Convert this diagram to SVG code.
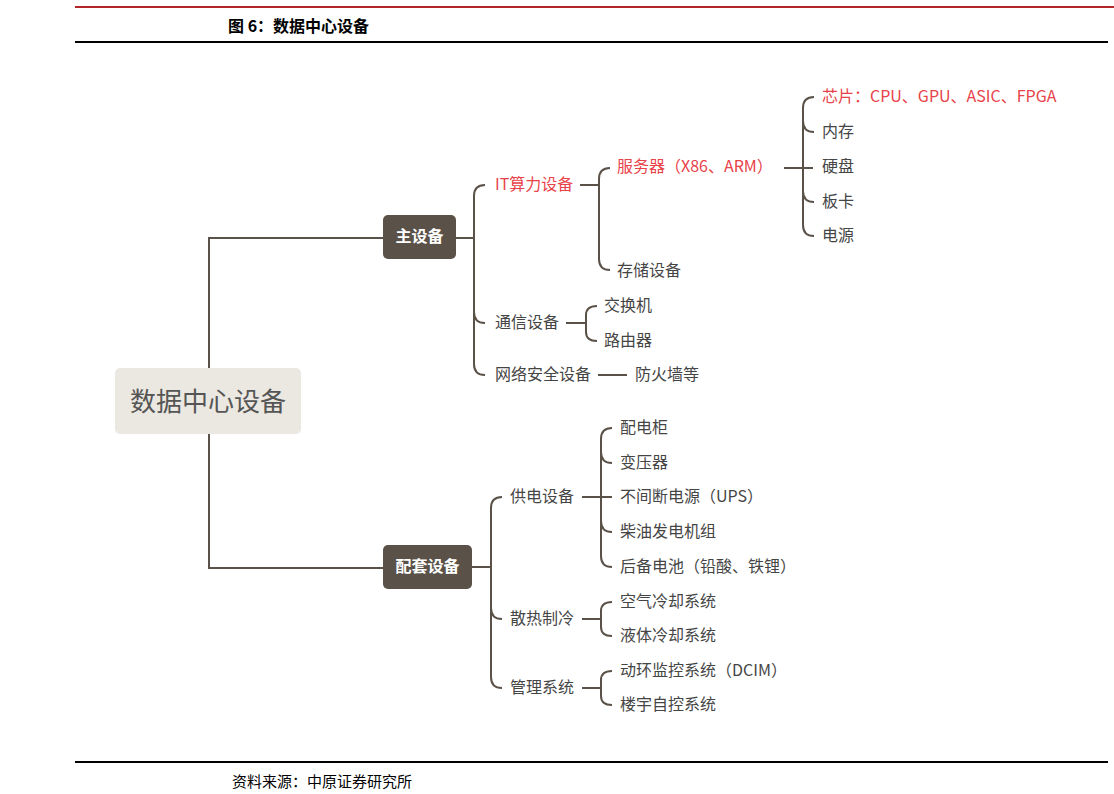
<svg xmlns="http://www.w3.org/2000/svg" width="1114" height="794" viewBox="0 0 1114 794">
<style>
text{font-family:"Noto Sans CJK SC","Noto Sans",sans-serif;}
.t{font-size:16px;fill:#454545;dominant-baseline:central}
.r{fill:#e8424a}
.c{fill:none;stroke:#5a5148;stroke-width:2}
.bx{fill:#5a5148}
.bt{font-size:16px;fill:#fff;font-weight:bold;text-anchor:middle;dominant-baseline:central}
</style>
<rect width="1114" height="794" fill="#fff"/>
<line x1="75" y1="7" x2="1114" y2="7" stroke="#b3232a" stroke-width="2"/>
<text x="228" y="32" font-size="16" font-weight="bold" fill="#000" style="font-family:'Noto Sans CJK SC',serif">图 6：数据中心设备</text>
<line x1="75" y1="42" x2="1108" y2="42" stroke="#000" stroke-width="2"/>
<line x1="75" y1="762" x2="1108" y2="762" stroke="#000" stroke-width="2"/>
<text x="232" y="787" font-size="15" fill="#000">资料来源：中原证券研究所</text>

<g id="connectors">
<path class="c" d="M209,368 V238 H383 M209,434 V568 H383"/>
<path class="c" d="M456,238 H474 M485,185 Q474,185 474,196 V364 Q474,375 485,375 M474,312 Q474,323 485,323"/>
<path class="c" d="M580,185 H599 M610,168 Q599,168 599,179 V259 Q599,270 610,270"/>
<path class="c" d="M784,168 H813 M814,97 Q803,97 803,108 V225 Q803,236 814,236 M803,121 Q803,132 814,132 M803,191 Q803,202 814,202"/>
<path class="c" d="M566,323 H586 M597,306 Q586,306 586,315 V332 Q586,341 597,341"/>
<path class="c" d="M598,375 H627"/>
<path class="c" d="M472,567 H491 M502,497 Q491,497 491,508 V677 Q491,688 502,688 M491,608 Q491,619 502,619"/>
<path class="c" d="M582,497 H612 M612,428 Q601,428 601,439 V556 Q601,567 612,567 M601,452 Q601,463 612,463 M601,521 Q601,532 612,532"/>
<path class="c" d="M582,619 H601 M612,602 Q601,602 601,611 V627 Q601,636 612,636"/>
<path class="c" d="M582,688 H601 M612,671 Q601,671 601,680 V696 Q601,705 612,705"/>
</g>

<g id="root"><rect x="115" y="368" width="186" height="66" rx="5" fill="#ebe8e2"/><text x="208" y="399" font-size="26" fill="#555" text-anchor="middle" dominant-baseline="central">数据中心设备</text></g>
<g id="main"><rect class="bx" x="383" y="215" width="73" height="44" rx="5"/><text class="bt" x="419.5" y="235">主设备</text></g>
<g id="support"><rect class="bx" x="383" y="545" width="89" height="44" rx="5"/><text class="bt" x="427.5" y="565">配套设备</text></g>

<g id="it"><text class="t r" x="495" y="183">IT算力设备</text></g>
<g id="server"><text class="t r" x="617" y="165">服务器（X86、ARM）</text></g>
<g id="storage"><text class="t" x="617" y="269">存储设备</text></g>
<g id="chip"><text class="t r" x="822" y="95">芯片：CPU、GPU、ASIC、FPGA</text></g>
<g id="mem"><text class="t" x="822" y="130">内存</text></g>
<g id="disk"><text class="t" x="822" y="165">硬盘</text></g>
<g id="card"><text class="t" x="822" y="200">板卡</text></g>
<g id="psu"><text class="t" x="822" y="234">电源</text></g>
<g id="comm"><text class="t" x="495" y="321">通信设备</text></g>
<g id="switch"><text class="t" x="604" y="304">交换机</text></g>
<g id="router"><text class="t" x="604" y="339">路由器</text></g>
<g id="sec"><text class="t" x="495" y="373">网络安全设备</text></g>
<g id="fw"><text class="t" x="635" y="373">防火墙等</text></g>

<g id="power"><text class="t" x="510" y="495">供电设备</text></g>
<g id="p1"><text class="t" x="620" y="426">配电柜</text></g>
<g id="p2"><text class="t" x="620" y="461">变压器</text></g>
<g id="p3"><text class="t" x="620" y="495">不间断电源（UPS）</text></g>
<g id="p4"><text class="t" x="620" y="530">柴油发电机组</text></g>
<g id="p5"><text class="t" x="620" y="565">后备电池（铅酸、铁锂）</text></g>
<g id="cool"><text class="t" x="510" y="617">散热制冷</text></g>
<g id="c1"><text class="t" x="620" y="600">空气冷却系统</text></g>
<g id="c2"><text class="t" x="620" y="634">液体冷却系统</text></g>
<g id="mgmt"><text class="t" x="510" y="686">管理系统</text></g>
<g id="m1"><text class="t" x="620" y="669">动环监控系统（DCIM）</text></g>
<g id="m2"><text class="t" x="620" y="703">楼宇自控系统</text></g>
</svg>
